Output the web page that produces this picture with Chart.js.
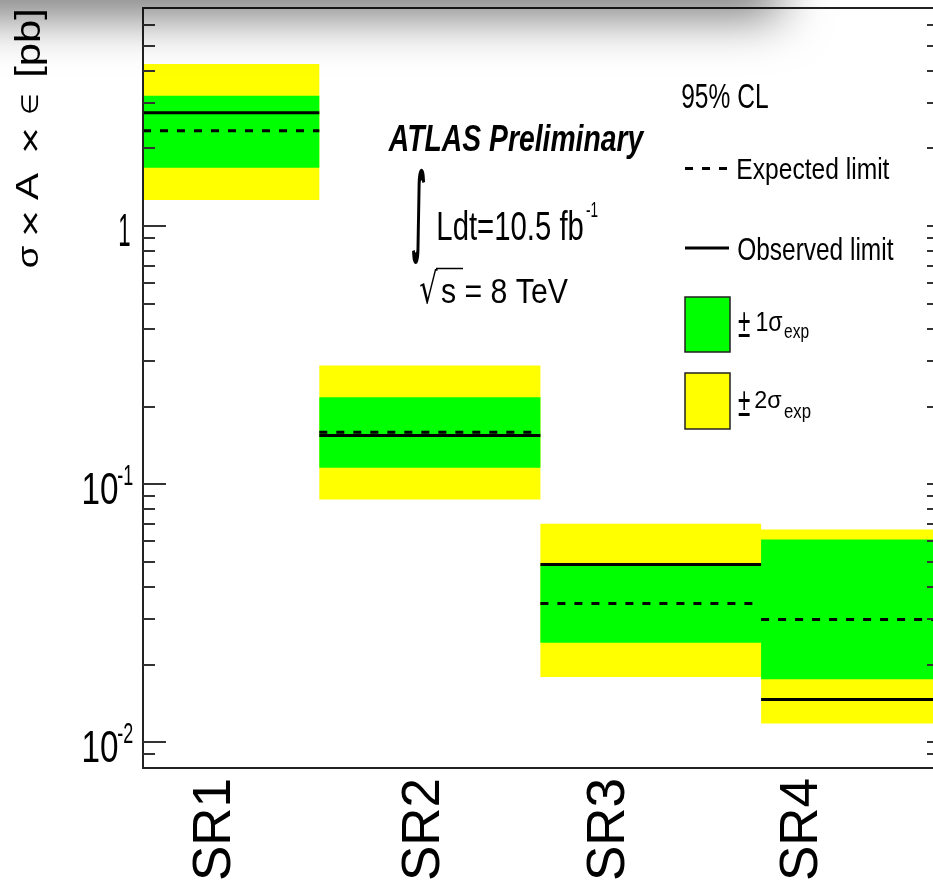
<!DOCTYPE html>
<html>
<head>
<meta charset="utf-8">
<title>ATLAS limits</title>
<script src="https://cdn.jsdelivr.net/npm/chart.js@4.4.1/dist/chart.umd.min.js"></script>
<style>
    html, body { margin: 0; padding: 0; background: #fff; overflow: hidden; }
    #wrap { position: relative; width: 933px; height: 892px; overflow: hidden; }
    #limitChart { position: absolute; left: 0; top: 0; }
    #shade { position: absolute; left: -60px; top: -40px; width: 830px; height: 40px;
             box-shadow: 0 6px 50px 10px rgba(0, 0, 0, 0.55); pointer-events: none; }
</style>
</head>
<body>
<div id="wrap">
    <canvas id="limitChart" width="940" height="892"></canvas>
    <div id="shade"></div>
</div>
<script>
// Signal regions, bin edges and label positions (x units)
const regions = ['SR1', 'SR2', 'SR3', 'SR4'];
const binEdges = [0, 0.886, 1.997, 3.106, 4.0];
const labelPositions = [0.365, 1.415, 2.345, 3.315];

// 95% CL limits on sigma x A x eps [pb]
const observed = [2.75, 0.1545, 0.0489, 0.01464];
const expected = [2.34, 0.159, 0.0345, 0.0299];
const oneSigmaUp = [3.20, 0.2174, 0.0485, 0.0610];
const oneSigmaDown = [1.685, 0.1158, 0.0243, 0.01755];
const twoSigmaUp = [4.25, 0.2884, 0.0703, 0.0668];
const twoSigmaDown = [1.263, 0.0873, 0.0179, 0.01182];

// Log axis range and tick labels
const yMin = 0.00795;
const yMax = 7.0;
const yDecades = [0.001, 0.01, 0.1, 1];
const yMantissas = [1, 2, 3, 4, 5, 6, 7, 8, 9];
const yMajorTicks = [0.01, 0.1, 1];
const yMajorLabels = [['10', '-2'], ['10', '-1'], ['1', '']];

const FONT = "'Liberation Sans', 'DejaVu Sans', sans-serif";

// band edges as a stepped line: one point per bin edge
const stepped = values => [
    ...values.map((v, i) => ({ x: binEdges[i], y: v })),
    { x: binEdges[values.length], y: values[values.length - 1] }
];

// one horizontal segment per bin, broken by a null point
const segments = values => values.flatMap((v, i) => {
    const pts = [{ x: binEdges[i], y: v }, { x: binEdges[i + 1], y: v }];
    if (i < values.length - 1) pts.push({ x: binEdges[i + 1], y: null });
    return pts;
});

// draw text stretched so that its ink box fills the given box
function fitText(ctx, text, font, x0, y0, x1, y1) {
    ctx.save();
    ctx.font = font;
    ctx.textAlign = 'left';
    ctx.textBaseline = 'alphabetic';
    const m = ctx.measureText(text);
    const w = m.actualBoundingBoxLeft + m.actualBoundingBoxRight;
    const h = m.actualBoundingBoxAscent + m.actualBoundingBoxDescent;
    ctx.translate(x0, y0);
    ctx.scale((x1 - x0) / w, (y1 - y0) / h);
    ctx.fillText(text, m.actualBoundingBoxLeft, m.actualBoundingBoxAscent);
    ctx.restore();
}

// same, but reading bottom to top
function fitTextUp(ctx, text, font, x0, y0, x1, y1) {
    ctx.save();
    ctx.font = font;
    ctx.textAlign = 'left';
    ctx.textBaseline = 'alphabetic';
    const m = ctx.measureText(text);
    const w = m.actualBoundingBoxLeft + m.actualBoundingBoxRight;
    const h = m.actualBoundingBoxAscent + m.actualBoundingBoxDescent;
    ctx.translate(x0, y1);
    ctx.rotate(-Math.PI / 2);
    ctx.scale((y1 - y0) / w, (x1 - x0) / h);
    ctx.fillText(text, m.actualBoundingBoxLeft, m.actualBoundingBoxAscent);
    ctx.restore();
}

const atlasFrame = {
    id: 'atlasFrame',
    afterDraw(chart) {
        const { ctx, chartArea: a, scales: { y } } = chart;
        ctx.save();

        // frame
        ctx.strokeStyle = '#222';
        ctx.lineWidth = 2;
        ctx.strokeRect(a.left, a.top, a.right - a.left, a.bottom - a.top);

        // ticks on left (inside) and mirrored on right
        ctx.strokeStyle = '#333';
        ctx.beginPath();
        yDecades.forEach(d => yMantissas.forEach(k => {
            const v = d * k;
            if (v <= yMin || v >= yMax) return;
            const py = Math.round(y.getPixelForValue(v));
            if (py <= a.top + 2 || py >= a.bottom - 2) return;
            const len = k === 1 ? 23 : 12;
            ctx.moveTo(a.left, py); ctx.lineTo(a.left + len, py);
            ctx.moveTo(a.right, py); ctx.lineTo(a.right - 12, py);
        }));
        ctx.stroke();

        // y tick labels
        ctx.fillStyle = '#000';
        yMajorTicks.forEach((v, i) => {
            const py = y.getPixelForValue(v);
            const [base, sup] = yMajorLabels[i];
            if (sup) {
                fitText(ctx, base, '40px ' + FONT, 84, py - 11, 117.5, py + 19.5);
                fitText(ctx, sup, '24px ' + FONT, 118, py - 20, 133, py + 1);
            } else {
                fitText(ctx, base, '40px ' + FONT, 120, py - 12.5, 130, py + 19.5);
            }
        });

        // y axis title, piece by piece
        fitTextUp(ctx, 'σ', '30px ' + FONT, 22, 245, 38, 267);
        fitTextUp(ctx, '×', '30px ' + FONT, 23, 212, 38, 234);
        fitTextUp(ctx, 'A', '30px ' + FONT, 17, 173, 38, 200);
        fitTextUp(ctx, '×', '30px ' + FONT, 23, 129, 38, 151);
        fitTextUp(ctx, '∈', '30px ' + FONT, 21, 95, 39, 113);
        fitTextUp(ctx, '[pb]', '30px ' + FONT, 15, 10, 47, 75);

        // ATLAS label
        fitText(ctx, 'ATLAS Preliminary', 'italic bold 34px ' + FONT, 388, 125, 645, 158);
        fitText(ctx, '∫', 'bold 80px "DejaVu Sans"', 412, 168, 425, 265);
        fitText(ctx, 'Ldt=10.5 fb', '36px ' + FONT, 438, 210, 583, 240);
        fitText(ctx, '-1', '20px ' + FONT, 586, 201, 598, 217);
        fitText(ctx, '√', '40px "DejaVu Sans"', 420, 268, 438, 304);
        ctx.strokeStyle = '#000';
        ctx.lineWidth = 1.5;
        ctx.beginPath();
        ctx.moveTo(436, 268.5); ctx.lineTo(463, 268.5);
        ctx.stroke();
        fitText(ctx, 's = 8 TeV', '30px ' + FONT, 441, 280, 568, 303);

        // legend
        fitText(ctx, '95% CL', '30px ' + FONT, 682, 85, 768, 108);

        ctx.lineWidth = 3;
        ctx.setLineDash([8, 9]);
        ctx.beginPath();
        ctx.moveTo(685, 168.5); ctx.lineTo(730, 168.5);
        ctx.stroke();
        ctx.setLineDash([]);
        fitText(ctx, 'Expected limit', '30px ' + FONT, 738, 157, 890, 185);

        ctx.beginPath();
        ctx.moveTo(685, 248); ctx.lineTo(729, 248);
        ctx.stroke();
        fitText(ctx, 'Observed limit', '30px ' + FONT, 738, 237, 894, 260);

        ctx.lineWidth = 1.5;
        ctx.strokeStyle = '#222';
        ctx.fillStyle = '#00ff00';
        ctx.fillRect(685, 297, 45, 55);
        ctx.strokeRect(685, 297, 45, 55);
        ctx.fillStyle = '#ffff00';
        ctx.fillRect(685, 373, 45, 56);
        ctx.strokeRect(685, 373, 45, 56);

        ctx.fillStyle = '#000';
        fitText(ctx, '±', '30px ' + FONT, 738, 313, 750, 337);
        fitText(ctx, '1σ', '30px ' + FONT, 757, 313, 783, 331);
        fitText(ctx, 'exp', '18px ' + FONT, 784, 327, 809, 343);
        fitText(ctx, '±', '30px ' + FONT, 738, 392, 750, 416);
        fitText(ctx, '2σ', '30px ' + FONT, 755, 392, 782, 408);
        fitText(ctx, 'exp', '18px ' + FONT, 784, 407, 811, 423);

        ctx.restore();
    }
};

new Chart(document.getElementById('limitChart'), {
    type: 'line',
    data: {
        datasets: [
            {
                label: 'Observed limit',
                data: segments(observed),
                borderColor: '#000',
                borderWidth: 3,
                pointRadius: 0,
                fill: false
            },
            {
                label: 'Expected limit',
                data: segments(expected),
                borderColor: '#000',
                borderWidth: 3,
                borderDash: [8, 9],
                pointRadius: 0,
                fill: false
            },
            {
                label: '±1σ up',
                data: stepped(oneSigmaUp),
                stepped: 'before',
                borderColor: 'rgba(0,0,0,0)',
                borderWidth: 0,
                pointRadius: 0,
                backgroundColor: '#00ff00',
                fill: '+1'
            },
            {
                label: '±1σ down',
                data: stepped(oneSigmaDown),
                stepped: 'before',
                borderColor: 'rgba(0,0,0,0)',
                borderWidth: 0,
                pointRadius: 0,
                fill: false
            },
            {
                label: '±2σ up',
                data: stepped(twoSigmaUp),
                stepped: 'before',
                borderColor: 'rgba(0,0,0,0)',
                borderWidth: 0,
                pointRadius: 0,
                backgroundColor: '#ffff00',
                fill: '+1'
            },
            {
                label: '±2σ down',
                data: stepped(twoSigmaDown),
                stepped: 'before',
                borderColor: 'rgba(0,0,0,0)',
                borderWidth: 0,
                pointRadius: 0,
                fill: false
            }
        ]
    },
    options: {
        responsive: false,
        animation: false,
        devicePixelRatio: 1,
        layout: { padding: { top: 8, right: 1, left: 0, bottom: 0 } },
        plugins: { legend: { display: false }, tooltip: { enabled: false } },
        scales: {
            x: {
                type: 'linear',
                min: 0,
                max: 4,
                grid: { display: false },
                border: { display: false },
                afterBuildTicks: scale => { scale.ticks = labelPositions.map(v => ({ value: v })); },
                afterFit: scale => { scale.height = 124; },
                ticks: {
                    autoSkip: false,
                    minRotation: 90,
                    maxRotation: 90,
                    padding: 2,
                    color: '#000',
                    font: { family: 'Liberation Sans', size: 53 },
                    callback: (value, index) => regions[index]
                }
            },
            y: {
                type: 'logarithmic',
                min: yMin,
                max: yMax,
                grid: { display: false },
                border: { display: false },
                ticks: { display: false },
                afterFit: scale => { scale.width = 143; }
            }
        }
    },
    plugins: [atlasFrame]
});
</script>
</body>
</html>
